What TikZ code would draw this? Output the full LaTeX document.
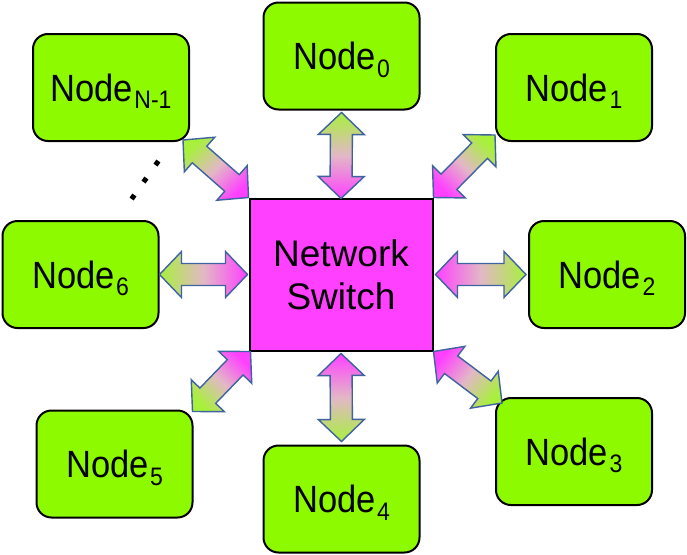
\documentclass[tikz,border=0pt]{standalone}
\usepackage{fontspec}
\setmainfont{Liberation Sans}
\usetikzlibrary{calc}
\definecolor{nodegreen}{HTML}{8EFA00}
\definecolor{switchpink}{HTML}{FF40FF}
\definecolor{arrowblue}{HTML}{3F63A0}
\definecolor{arrpink}{HTML}{FF40FF}
\definecolor{arrmid}{HTML}{E2B8C6}
\definecolor{arrgreen}{HTML}{A8F03C}
\newcommand{\nodelabel}[1]{\scalebox{1}[1.1]{\fontsize{34.5}{40}\selectfont Node\kern1.5pt\smash{\raisebox{-7pt}{\fontsize{23}{23}\selectfont #1}}}}
\newcommand{\dblarrow}[3]{%
  \shadedraw[blockarr, shading angle=#3]
    (#1)
    -- ($(#1)!22pt!(#2)!23pt!90:(#2)$)
    -- ($(#1)!22pt!(#2)!11pt!90:(#2)$)
    -- ($(#2)!22pt!(#1)!11pt!-90:(#1)$)
    -- ($(#2)!22pt!(#1)!23pt!-90:(#1)$)
    -- (#2)
    -- ($(#2)!22pt!(#1)!23pt!90:(#1)$)
    -- ($(#2)!22pt!(#1)!11pt!90:(#1)$)
    -- ($(#1)!22pt!(#2)!11pt!-90:(#2)$)
    -- ($(#1)!22pt!(#2)!23pt!-90:(#2)$)
    -- cycle;}
\tikzset{
  pcnode/.style={draw=black, line width=2pt, fill=nodegreen, rounded corners=15pt,
    minimum width=156pt, minimum height=107pt, inner sep=0pt},
  switchbox/.style={draw=black, line width=2pt, fill=switchpink, minimum width=183pt,
    minimum height=152pt, inner sep=0pt, align=center, font=\fontsize{37}{43}\selectfont},
  blockarr/.style={draw=arrowblue, line width=1.4pt, line join=miter,
    top color=arrpink, bottom color=arrgreen, middle color=arrmid},
  dotline/.style={line width=5pt, dash pattern=on 5pt off 15.8pt}
}
\begin{document}
\begin{tikzpicture}[x=1pt, y=-1pt]
  \fill[white] (0,0) rectangle (687,554);
  \useasboundingbox (0,0) rectangle (687,554);
  % nodes
  \node[pcnode] (nN) at (111,87.5) {\nodelabel{N-1}};
  \node[pcnode] (n0) at (341.5,56) {\nodelabel{0}};
  \node[pcnode] (n1) at (574,87.5) {\nodelabel{1}};
  \node[pcnode] (n2) at (607,274.5) {\nodelabel{2}};
  \node[pcnode] (n3) at (574,451.5) {\nodelabel{3}};
  \node[pcnode] (n4) at (341.5,499) {\nodelabel{4}};
  \node[pcnode] (n5) at (114.5,464) {\nodelabel{5}};
  \node[pcnode] (n6) at (80.5,274.5) {\nodelabel{6}};
  \node[switchbox] (sw) at (341,274.5) {Network\\Switch};
  % arrow end points
  \coordinate (a0s) at ($(sw.north)+(0,1)$);
  \coordinate (a0n) at ($(n0.south)+(0,2)$);
  \coordinate (a4s) at ($(sw.south)+(0,2)$);
  \coordinate (a4n) at ($(n4.north)+(0,-3)$);
  \coordinate (a6s) at ($(sw.west)+(-1,0)$);
  \coordinate (a6n) at (n6.east);
  \coordinate (a2s) at ($(sw.east)+(2,0)$);
  \coordinate (a2n) at ($(n2.west)+(-2,0)$);
  \coordinate (a1s) at (sw.north east);
  \coordinate (a1n) at ($(n1.south west)+(0,-7)$);
  \coordinate (aNs) at (sw.north west);
  \coordinate (aNn) at ($(nN.south east)+(-7,-2)$);
  \coordinate (a3s) at (sw.south east);
  \coordinate (a3n) at ($(n3.north west)+(7,6)$);
  \coordinate (a5s) at ($(sw.south west)+(2,0)$);
  \coordinate (a5n) at ($(n5.north east)+(-1,2)$);
  % arrows
  \dblarrow{a0s}{a0n}{180}
  \dblarrow{a4s}{a4n}{0}
  \dblarrow{a6s}{a6n}{270}
  \dblarrow{a2s}{a2n}{90}
  \dblarrow{a1s}{a1n}{135}
  \dblarrow{aNs}{aNn}{225}
  \dblarrow{a3s}{a3n}{53}
  \dblarrow{a5s}{a5n}{315}
  % ellipsis dots
  \coordinate (d1) at ($(nN.south east)+(-31.6,19)$);
  \coordinate (d2) at ($(nN.south east)+(-58.4,57)$);
  \draw[dotline] (d1) -- (d2);
\end{tikzpicture}
\end{document}
